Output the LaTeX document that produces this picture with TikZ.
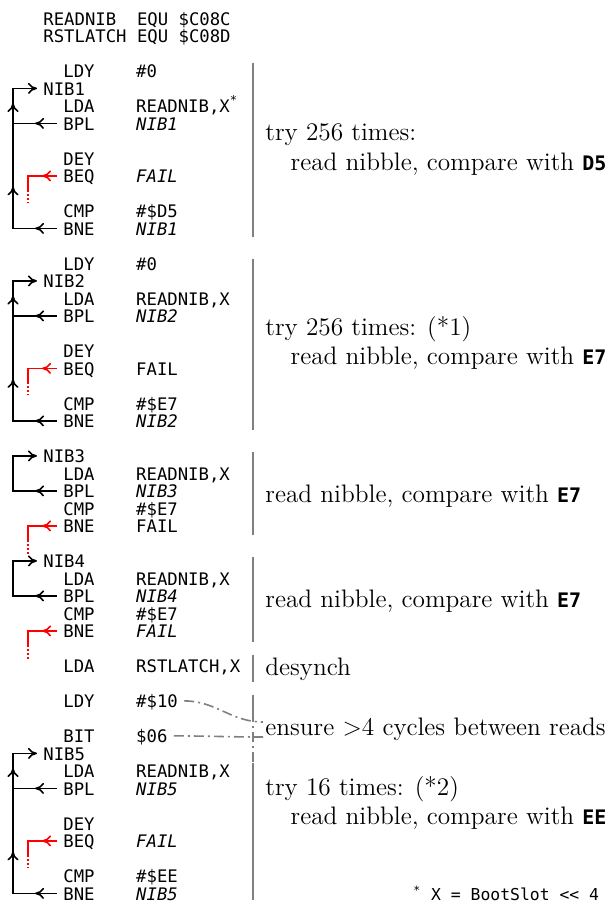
\documentclass[tikz,border=0pt]{standalone}
\usepackage{fontspec}
\setmonofont{DejaVu Sans Mono}
\usetikzlibrary{arrows.meta,decorations.markings}

\begin{document}
\begin{tikzpicture}[x=0.5pt,y=-0.5pt,>={To[length=4.5pt,width=5.5pt]},
  code/.style={anchor=base west, inner xsep=3pt, inner ysep=0pt, text height=6.6pt, text depth=0pt,
    font=\ttfamily\fontsize{8.64pt}{8.76pt}\selectfont},
  note/.style={anchor=west, inner xsep=1pt, inner ysep=0pt, align=left,
    font=\fontsize{12.65pt}{14.6pt}\selectfont},
  foot/.style={anchor=base west, inner sep=0pt, font=\ttfamily\fontsize{8.2pt}{9pt}\selectfont},
  bar/.style={draw=gray, line width=1pt},
  link/.style={draw=gray, line width=0.8pt, dash pattern=on 5pt off 2pt on 1pt off 2pt},
  loopline/.style={draw=black, line width=0.8pt},
  failline/.style={draw=red, line width=0.8pt},
  midmark/.style={postaction={decorate},decoration={markings,mark=at position #1 with {\arrow{>}}}},
  loopmarks/.style n args={3}{postaction={decorate},decoration={markings,
    mark=at position #1 with {\arrow{>}},
    mark=at position #2 with {\arrow{>}},
    mark=at position #3 with {\arrow{>}}}}]
\useasboundingbox (0,0) rectangle (611,907);
\coordinate (loopx) at (13,0);
\coordinate (failx) at (28,0);

% equates
\node[code] (readnib) at (37,25) {READNIB~~EQU~\$C08C};
\node[code] (rstlatch) at (37,42.5) {RSTLATCH~EQU~\$C08D};

% first sync byte
\node[code] (ldy1) at (57,77.5) {LDY~~~~\#0};
\node[code] (nib1) at (37,95) {NIB1};
\node[code] (lda1) at (57,112.5) {LDA~~~~READNIB,X\textsuperscript{*}};
\node[code] (bpl1) at (57,130) {BPL~~~~\textit{NIB1}};
\node[code] (dey1) at (57,165) {DEY};
\node[code] (beq1) at (57,182.5) {BEQ~~~~\textit{FAIL}};
\node[code] (cmp1) at (57,217.5) {CMP~~~~\#\$D5};
\node[code] (bne1) at (57,235) {BNE~~~~\textit{NIB1}};

% second sync byte
\node[code] (ldy2) at (57,270) {LDY~~~~\#0};
\node[code] (nib2) at (37,287.5) {NIB2};
\node[code] (lda2) at (57,305) {LDA~~~~READNIB,X};
\node[code] (bpl2) at (57,322.5) {BPL~~~~\textit{NIB2}};
\node[code] (dey2) at (57,357.5) {DEY};
\node[code] (beq2) at (57,375) {BEQ~~~~FAIL};
\node[code] (cmp2) at (57,410) {CMP~~~~\#\$E7};
\node[code] (bne2) at (57,427.5) {BNE~~~~\textit{NIB2}};

% third and fourth
\node[code] (nib3) at (37,462.5) {NIB3};
\node[code] (lda3) at (57,480) {LDA~~~~READNIB,X};
\node[code] (bpl3) at (57,497.5) {BPL~~~~\textit{NIB3}};
\node[code] (cmp3) at (57,515) {CMP~~~~\#\$E7};
\node[code] (bne3) at (57,532.5) {BNE~~~~FAIL};
\node[code] (nib4) at (37,567.5) {NIB4};
\node[code] (lda4) at (57,585) {LDA~~~~READNIB,X};
\node[code] (bpl4) at (57,602.5) {BPL~~~~\textit{NIB4}};
\node[code] (cmp4) at (57,620) {CMP~~~~\#\$E7};
\node[code] (bne4) at (57,637.5) {BNE~~~~\textit{FAIL}};

\node[code] (rst) at (57,672.5) {LDA~~~~RSTLATCH,X};
\node[code] (ldy5) at (57,707.5) {LDY~~~~\#\$10};
\node[code] (bit5) at (57,742.5) {BIT~~~~\$06};

% fifth
\node[code] (nib5) at (37,760) {NIB5};
\node[code] (lda5) at (57,777.5) {LDA~~~~READNIB,X};
\node[code] (bpl5) at (57,795) {BPL~~~~\textit{NIB5}};
\node[code] (dey5) at (57,830) {DEY};
\node[code] (beq5) at (57,847.5) {BEQ~~~~\textit{FAIL}};
\node[code] (cmp5) at (57,882.5) {CMP~~~~\#\$EE};
\node[code] (bne5) at (57,900) {BNE~~~~\textit{NIB5}};

\node[foot] (foot) at (413,900) {\textsuperscript{*}~X~=~BootSlot~<<~4};

% comments
\node[note] (try1) at (263,149.5) {try 256 times:\\\hspace*{1em}read nibble, compare with {\ttfamily\bfseries\fontsize{10pt}{14pt}\selectfont D5}};
\node[note] (try2) at (263,343) {try 256 times: (*1)\\\hspace*{1em}read nibble, compare with {\ttfamily\bfseries\fontsize{10pt}{14pt}\selectfont E7}};
\node[note] (read3) at (263,496) {read nibble, compare with {\ttfamily\bfseries\fontsize{10pt}{14pt}\selectfont E7}};
\node[note] (read4) at (263,601) {read nibble, compare with {\ttfamily\bfseries\fontsize{10pt}{14pt}\selectfont E7}};
\node[note] (desynch) at (263,669) {desynch};
\node[note] (ensure) at (263,729) {ensure >4 cycles between reads};
\node[note] (try5) at (263,803) {try 16 times: (*2)\\\hspace*{1em}read nibble, compare with {\ttfamily\bfseries\fontsize{10pt}{14pt}\selectfont EE}};

% bars
\draw[bar] (253,63) -- (253,237);
\draw[bar] (253,259) -- (253,430);
\draw[bar] (253,452) -- (253,535);
\draw[bar] (253,557) -- (253,642);
\draw[bar] (253,655) -- (253,682);
\draw[bar] (253,695) -- (253,712);
\draw[bar, dash pattern=on 5pt off 2pt on 1pt off 2pt] (253,712) -- (253,763);
\draw[bar] (253,763) -- (253,900);

\draw[link] (ldy5.east) to[out=0,in=180] ([yshift=3.5pt]ensure.west);
\draw[link] (bit5.east) to[out=0,in=180] ([yshift=-4pt]ensure.west);

% loops
\draw[loopline, ->, loopmarks={11pt}{43pt}{84.7pt}] (bne1.west) -- (bne1.west -| loopx) -- (nib1.west -| loopx) -- (nib1.west);
\draw[loopline, midmark=0.5] (bpl1.west) -- (bpl1.west -| loopx);
\draw[loopline, ->, loopmarks={11pt}{43pt}{84.7pt}] (bne2.west) -- (bne2.west -| loopx) -- (nib2.west -| loopx) -- (nib2.west);
\draw[loopline, midmark=0.5] (bpl2.west) -- (bpl2.west -| loopx);
\draw[loopline, ->, midmark=11pt] (bpl3.west) -- (bpl3.west -| loopx) |- (nib3.west);
\draw[loopline, ->, midmark=11pt] (bpl4.west) -- (bpl4.west -| loopx) |- (nib4.west);
\draw[loopline, ->, loopmarks={11pt}{43pt}{84.7pt}] (bne5.west) -- (bne5.west -| loopx) -- (nib5.west -| loopx) -- (nib5.west);
\draw[loopline, midmark=0.5] (bpl5.west) -- (bpl5.west -| loopx);

% failures
\draw[failline, midmark=7.5pt] (beq1.west) -- (beq1.west -| failx) -- ++(0,14);
\draw[failline, dash pattern=on 1pt off 1pt] (beq1.west -| failx) ++(0,14) -- ++(0,13);
\draw[failline, midmark=7.5pt] (beq2.west) -- (beq2.west -| failx) -- ++(0,14);
\draw[failline, dash pattern=on 1pt off 1pt] (beq2.west -| failx) ++(0,14) -- ++(0,13);
\draw[failline, midmark=7.5pt] (bne3.west) -- (bne3.west -| failx) -- ++(0,14);
\draw[failline, dash pattern=on 1pt off 1pt] (bne3.west -| failx) ++(0,14) -- ++(0,15);
\draw[failline, midmark=7.5pt] (bne4.west) -- (bne4.west -| failx) -- ++(0,14);
\draw[failline, dash pattern=on 1pt off 1pt] (bne4.west -| failx) ++(0,14) -- ++(0,15);
\draw[failline, midmark=7.5pt] (beq5.west) -- (beq5.west -| failx) -- ++(0,14);
\draw[failline, dash pattern=on 1pt off 1pt] (beq5.west -| failx) ++(0,14) -- ++(0,13);
\end{tikzpicture}
\end{document}
